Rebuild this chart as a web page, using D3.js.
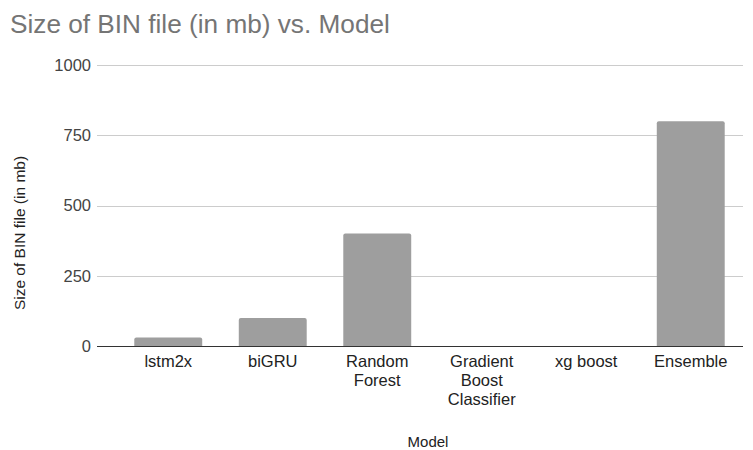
<!DOCTYPE html>
<html>
<head>
<meta charset="utf-8">
<script src="https://cdn.jsdelivr.net/npm/d3@7"></script>
<style>
  html, body { margin: 0; padding: 0; background: #fff; }
  svg { display: block; font-family: "Liberation Sans", Arial, sans-serif; }
</style>
</head>
<body>
<svg id="chart" width="753" height="450"></svg>
<script>
// Model names (line-wrapped labels) and BIN file sizes in MB
const models = ["lstm2x", "biGRU", "Random Forest", "Gradient Boost Classifier", "xg boost", "Ensemble"];
const modelLabelLines = [["lstm2x"], ["biGRU"], ["Random", "Forest"], ["Gradient", "Boost", "Classifier"], ["xg boost"], ["Ensemble"]];
const sizesMb = [30, 100, 400, 0, 0, 800];
const yTicks = [0, 250, 500, 750, 1000];

const svg = d3.select("#chart");
const labelSize = 16.5;

const plot = { left: 97, right: 743, top: 65, bottom: 346 };

const x = d3.scaleBand()
  .domain(models)
  .range([116, 743])
  .paddingInner(0.35)
  .paddingOuter(0.175);

const y = d3.scaleLinear()
  .domain([0, 1000])
  .range([plot.bottom, plot.top]);

// Title
svg.append("text")
  .attr("x", 10).attr("y", 33)
  .attr("fill", "#757575")
  .attr("font-size", 26.2)
  .text("Size of BIN file (in mb) vs. Model");

// Gridlines
svg.append("g")
  .selectAll("line")
  .data(yTicks.filter(d => d !== 0))
  .join("line")
  .attr("x1", plot.left).attr("x2", plot.right)
  .attr("y1", d => Math.round(y(d)) + 0.5).attr("y2", d => Math.round(y(d)) + 0.5)
  .attr("stroke", "#cccccc").attr("stroke-width", 1);

// Y axis tick labels
const yAxis = d3.axisLeft(y).tickValues(yTicks).tickSize(0).tickPadding(0).tickFormat(d3.format("d"));
const yg = svg.append("g").attr("transform", "translate(91,0)").call(yAxis);
yg.select(".domain").remove();
yg.selectAll("text")
  .attr("font-size", labelSize)
  .attr("font-family", "\"Liberation Sans\", Arial, sans-serif")
  .attr("fill", "#444");

// Bars with slightly rounded top corners
const r = 2;
svg.append("g")
  .selectAll("path")
  .data(models.map((m, i) => ({ m, v: sizesMb[i] })).filter(d => d.v > 0))
  .join("path")
  .attr("fill", "#9e9e9e")
  .attr("d", d => {
    const x0 = x(d.m), x1 = x0 + x.bandwidth();
    const yt = y(d.v), yb = y(0);
    return `M${x0},${yb}V${yt + r}Q${x0},${yt} ${x0 + r},${yt}H${x1 - r}Q${x1},${yt} ${x1},${yt + r}V${yb}Z`;
  });

// Baseline
svg.append("line")
  .attr("x1", plot.left).attr("x2", plot.right)
  .attr("y1", plot.bottom + 0.5).attr("y2", plot.bottom + 0.5)
  .attr("stroke", "#333").attr("stroke-width", 1.2);

// X category labels
const xg = svg.append("g");
models.forEach((m, i) => {
  const cx = x(m) + x.bandwidth() / 2;
  const t = xg.append("text")
    .attr("x", cx)
    .attr("y", 367)
    .attr("text-anchor", "middle")
    .attr("font-size", labelSize)
    .attr("fill", "#222");
  modelLabelLines[i].forEach((line, j) => {
    t.append("tspan")
      .attr("x", cx)
      .attr("dy", j === 0 ? 0 : 19)
      .text(line);
  });
});

// Axis titles
svg.append("text")
  .attr("x", 428).attr("y", 447)
  .attr("text-anchor", "middle")
  .attr("font-size", 15)
  .attr("fill", "#222")
  .text("Model");

svg.append("text")
  .attr("transform", "translate(25,233) rotate(-90)")
  .attr("text-anchor", "middle")
  .attr("font-size", 15.5)
  .attr("fill", "#222")
  .text("Size of BIN file (in mb)");
</script>
</body>
</html>
